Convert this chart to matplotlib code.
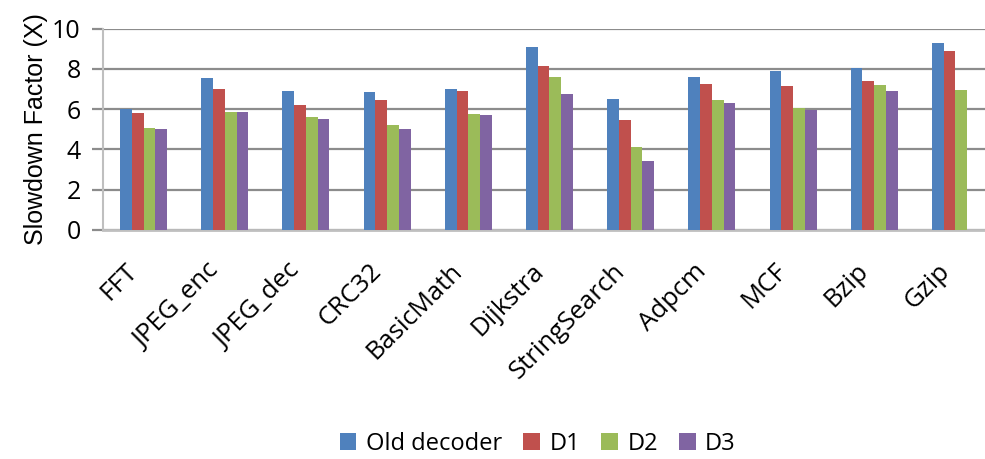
import numpy as np
import matplotlib
matplotlib.use('Agg')
import matplotlib.pyplot as plt
import matplotlib.transforms as mtransforms

# --- Data ---
benchmarks = ['FFT', 'JPEG_enc', 'JPEG_dec', 'CRC32', 'BasicMath', 'Dijkstra',
              'StringSearch', 'Adpcm', 'MCF', 'Bzip', 'Gzip']
series_names = ['Old decoder', 'D1', 'D2', 'D3']
old_decoder = [6.0, 7.55, 6.9, 6.86, 7.0, 9.09, 6.51, 7.6, 7.9, 8.05, 9.29]
d1 = [5.81, 7.0, 6.21, 6.46, 6.9, 8.15, 5.46, 7.25, 7.15, 7.4, 8.89]
d2 = [5.07, 5.86, 5.61, 5.22, 5.76, 7.6, 4.12, 6.46, 6.06, 7.2, 6.95]
d3 = [5.02, 5.86, 5.51, 5.02, 5.71, 6.76, 3.43, 6.31, 5.98, 6.9, 0.0]
colors = ['#4F81BD', '#C0504D', '#9BBB59', '#8064A2']

plt.rcParams['font.family'] = ['Open Sans', 'DejaVu Sans']

fig = plt.figure(figsize=(9.85, 4.59), dpi=100)
ax = fig.add_axes([103 / 985, 1 - 230 / 459, 1 - 103 / 985, (230 - 28.7) / 459])

x = np.arange(len(benchmarks))
bar_w = 0.145
all_series = [old_decoder, d1, d2, d3]
for i, (vals, name, c) in enumerate(zip(all_series, series_names, colors)):
    offs = (i - 1.5) * bar_w
    ax.bar(x + offs, vals, width=bar_w, color=c, label=name, zorder=3)

ax.set_ylim(0, 10)
ax.set_xlim(-0.5, 10.5 - 11 / 81.2)
ax.set_yticks([0, 2, 4, 6, 8, 10])
ax.yaxis.grid(True, color='#8c8c8c', linewidth=1.6, zorder=0)
ax.set_axisbelow(True)

for s in ['top', 'right']:
    ax.spines[s].set_visible(False)
ax.spines['left'].set_color('#bfbfbf')
ax.spines['left'].set_linewidth(1.5)
ax.spines['bottom'].set_color('#bfbfbf')
ax.spines['bottom'].set_linewidth(2.0)

ax.tick_params(axis='y', length=8, width=1.6, color='#8c8c8c', labelsize=18, pad=8)
ax.tick_params(axis='x', length=0, labelsize=18.5, pad=27)
ax.set_xticks(x)
ax.set_xticklabels(benchmarks, rotation=45, ha='right', va='center', rotation_mode='anchor')
# nudge the category labels a little left, like the original
shift = mtransforms.ScaledTranslation(-7 / 72, 0, fig.dpi_scale_trans)
for lbl in ax.get_xticklabels():
    lbl.set_transform(lbl.get_transform() + shift)

ax.set_ylabel('Slowdown Factor (X)', fontsize=18, family=['Liberation Sans', 'DejaVu Sans'],
              labelpad=3)

fig.legend(loc='center', bbox_to_anchor=(0.546, 1 - 444 / 459), ncol=4, frameon=False,
           fontsize=17, handlelength=0.7, handleheight=0.7, handletextpad=0.4,
           columnspacing=0.9)

fig.savefig('out.png', dpi=100)
